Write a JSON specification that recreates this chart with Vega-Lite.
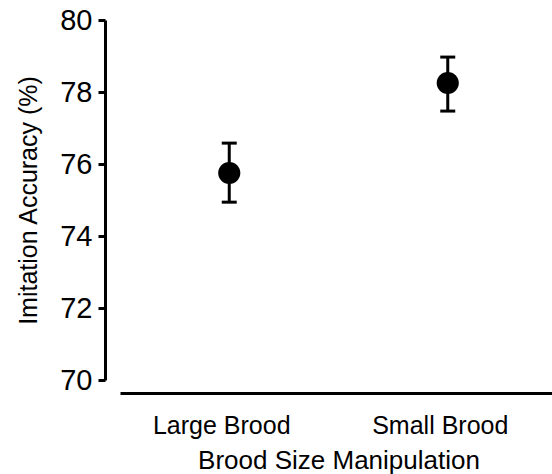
{
  "$schema": "https://vega.github.io/schema/vega-lite/v6.json",
  "autosize": "none",
  "padding": {"left": 120, "top": 20, "right": 0, "bottom": 94},
  "width": 437,
  "height": 360,
  "background": "white",
  "config": {
    "view": {"stroke": null},
    "font": "Liberation Sans",
    "axis": {
      "grid": false,
      "domainColor": "black",
      "domainWidth": 3,
      "tickColor": "black",
      "tickWidth": 3,
      "labelColor": "black",
      "titleColor": "black",
      "labelFont": "Liberation Sans",
      "titleFont": "Liberation Sans",
      "titleFontWeight": "normal"
    }
  },
  "data": {
    "values": [
      {"group": "Large Brood", "mean": 75.75, "lo": 74.94, "hi": 76.58},
      {"group": "Small Brood", "mean": 78.25, "lo": 77.47, "hi": 78.97}
    ]
  },
  "encoding": {
    "x": {
      "field": "group",
      "type": "nominal",
      "scale": {"type": "point"},
      "sort": null,
      "axis": {
        "title": "Brood Size Manipulation",
        "labelAngle": 0,
        "ticks": false,
        "offset": 13,
        "labelFontSize": 25,
        "labelPadding": 20,
        "labelOffset": -8,
        "titleFontSize": 26,
        "titlePadding": 9
      }
    }
  },
  "layer": [
    {
      "mark": {"type": "rule", "color": "black", "strokeWidth": 3, "opacity": 1},
      "encoding": {
        "y": {
          "field": "lo",
          "type": "quantitative",
          "scale": {"domain": [70, 80], "nice": false, "zero": false},
          "axis": {
            "title": "Imitation Accuracy (%)",
            "values": [70, 72, 74, 76, 78, 80],
            "offset": 15,
            "tickSize": 7,
            "labelFontSize": 29,
            "labelPadding": 6,
            "titleFontSize": 25,
            "titlePadding": 18
          }
        },
        "y2": {"field": "hi"}
      }
    },
    {
      "mark": {"type": "tick", "color": "black", "thickness": 3, "size": 15, "opacity": 1},
      "encoding": {"y": {"field": "lo", "type": "quantitative"}}
    },
    {
      "mark": {"type": "tick", "color": "black", "thickness": 3, "size": 15, "opacity": 1},
      "encoding": {"y": {"field": "hi", "type": "quantitative"}}
    },
    {
      "mark": {"type": "point", "shape": "circle", "filled": true, "color": "black", "opacity": 1, "size": 490},
      "encoding": {"y": {"field": "mean", "type": "quantitative"}}
    }
  ]
}
